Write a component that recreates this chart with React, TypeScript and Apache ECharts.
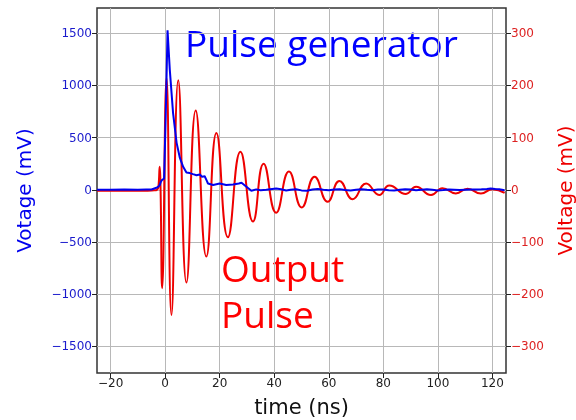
import React, { useEffect, useRef } from "react";
import * as echarts from "echarts";

// time (ns), voltage (mV) of the pulse generator (left axis)
const blueT = [-25, -20, -15, -10, -7, -5, -3.2, -2.5, -2, -1.6, -1.2, -0.8, -0.4, 0.2, 0.87, 1.7, 2.9, 4.2, 5.4, 6.6, 7.8, 9.0, 10.2, 11.5, 12.7, 13.5, 14.5, 15.2, 15.7, 17.6, 20, 22.4, 24.9, 27, 28, 29.8, 31.6, 33.4, 35, 37.1, 40.7, 42.5, 44.4, 46, 48, 50, 52, 54, 56, 58, 60, 62, 64, 66, 68, 70, 72, 74, 76, 78, 80, 82, 84, 86, 88, 90, 92, 94, 96, 98, 100, 102, 104, 106, 108, 110, 112, 114, 116, 118, 119.4, 121, 122.5, 124.5];
const blueV = [0, 0, 2, 0, 3, 2, 19, 30, 45, 75, 93, 100, 109, 700, 1530, 1150, 735, 450, 305, 220, 165, 160, 150, 140, 147, 125, 130, 90, 60, 45, 60, 45, 50, 60, 67, 29, -10, 4, -5, 0, 13, 5, -7, 0, 5, -6, -10, 2, 8, 0, -5, 3, 5, -2, -8, 0, 6, 0, -5, 2, 3, -4, -6, 0, 5, 2, -4, 0, 4, 0, -6, -2, 3, 0, -3, 0, 2, 3, 5, 8, 13, 8, 5, -5];

// time (ns), voltage (mV) of the output pulse (right axis)
const redT = [-25, -15, -8, -4, -3, -2.5, -2.0, -1.7, -1.1, 0.5, 2.3, 4.8, 7.8, 11.2, 15.1, 18.8, 23.0, 27.6, 32.2, 36.1, 40.7, 45.4, 50.1, 54.8, 59.6, 63.9, 68.8, 73.7, 78.5, 82.2, 88.3, 92, 97.5, 101.7, 106.6, 110.9, 115.8, 120, 124.5];
const redV = [-2, -2, -2, -1, 0, 5, 44, 5, -189, 215, -240, 210, -178, 152, -128, 109, -91, 73, -61, 50, -44, 35, -34, 25, -23, 17, -18, 12, -10, 8, -8, 6, -10, 3, -7, 2, -7, 1, -6];

const xTicks = [-20, 0, 20, 40, 60, 80, 100, 120];
const leftTicks = [-1500, -1000, -500, 0, 500, 1000, 1500];
const rightTicks = [-300, -200, -100, 0, 100, 200, 300];

const minus = (v: number) => (v < 0 ? "\u2212" + Math.abs(v) : String(v));

export default function App() {
  const ref = useRef<HTMLDivElement>(null);
  useEffect(() => {
    if (!ref.current) return;
    const chart = echarts.init(ref.current, undefined, { renderer: "svg" });
    const tickFont = { fontFamily: "DejaVu Sans", fontSize: 12 };
    chart.setOption({
      animation: false,
      grid: {
        left: 97,
        right: 70,
        top: 8,
        bottom: 47,
        show: true,
        borderColor: "#333",
        borderWidth: 1.5,
        containLabel: false,
        outerBoundsMode: "none",
      },
      xAxis: {
        type: "value",
        min: -25,
        max: 125,
        splitNumber: 7,
        minInterval: 20,
        maxInterval: 20,
        name: "time (ns)",
        nameLocation: "middle",
        nameGap: 23,
        nameTextStyle: { fontFamily: "DejaVu Sans", fontSize: 21, color: "#111", verticalAlign: "top" },
        axisLine: { show: false, onZero: false },
        axisTick: { show: true, length: 5, lineStyle: { color: "#222" }, customValues: xTicks },
        axisLabel: {
          ...tickFont,
          color: "#222",
          margin: 4,
          customValues: xTicks,
          formatter: (v: number) => minus(v),
        },
        splitLine: { show: true, lineStyle: { color: "#b8b8b8", width: 1 } },
      },
      yAxis: [
        {
          type: "value",
          position: "left",
          min: -1757,
          max: 1743,
          splitNumber: 7,
          minInterval: 500,
          maxInterval: 500,
          name: "Votage (mV)",
          nameLocation: "middle",
          nameGap: 63,
          nameTextStyle: { fontFamily: "DejaVu Sans", fontSize: 20, color: "#0000ee" },
          axisLine: { show: false, onZero: false },
          axisTick: { show: true, length: 5, lineStyle: { color: "#222" }, customValues: leftTicks },
          axisLabel: {
            ...tickFont,
            color: "#1a1acc",
            margin: 5,
            customValues: leftTicks,
            formatter: (v: number) => minus(v),
          },
          splitLine: { show: true, lineStyle: { color: "#b8b8b8", width: 1 } },
        },
        {
          type: "value",
          position: "right",
          min: -351.4,
          max: 348.6,
          splitNumber: 7,
          minInterval: 100,
          maxInterval: 100,
          name: "Voltage (mV)",
          nameLocation: "middle",
          nameGap: 45,
          nameTextStyle: { fontFamily: "DejaVu Sans", fontSize: 20, color: "#ee0000" },
          axisLine: { show: false, onZero: false },
          axisTick: { show: true, length: 5, lineStyle: { color: "#222" }, customValues: rightTicks },
          axisLabel: {
            ...tickFont,
            color: "#dd2222",
            margin: 5,
            customValues: rightTicks,
            formatter: (v: number) => minus(v),
          },
          splitLine: { show: false },
        },
      ],
      series: [
        {
          type: "line",
          yAxisIndex: 1,
          data: redT.map((t, i) => [t, redV[i]]),
          showSymbol: false,
          smooth: 0.5,
          lineStyle: { color: "#ee0000", width: 2 },
          z: 2,
        },
        {
          type: "line",
          yAxisIndex: 0,
          data: blueT.map((t, i) => [t, blueV[i]]),
          showSymbol: false,
          lineStyle: { color: "#0000ee", width: 2 },
          z: 3,
        },
      ],
      graphic: [
        {
          type: "text",
          left: 185,
          top: 24,
          style: { text: "Pulse generator", fill: "#0000ff", font: "37px 'Open Sans'" },
        },
        {
          type: "text",
          left: 221,
          top: 244,
          style: { text: "Output\nPulse", fill: "#ff0000", font: "37px 'Open Sans'", lineHeight: 46 },
        },
      ],
    });
    return () => chart.dispose();
  }, []);
  return <div ref={ref} style={{ position: "fixed", left: 0, top: 0, width: 576, height: 420 }} />;
}
